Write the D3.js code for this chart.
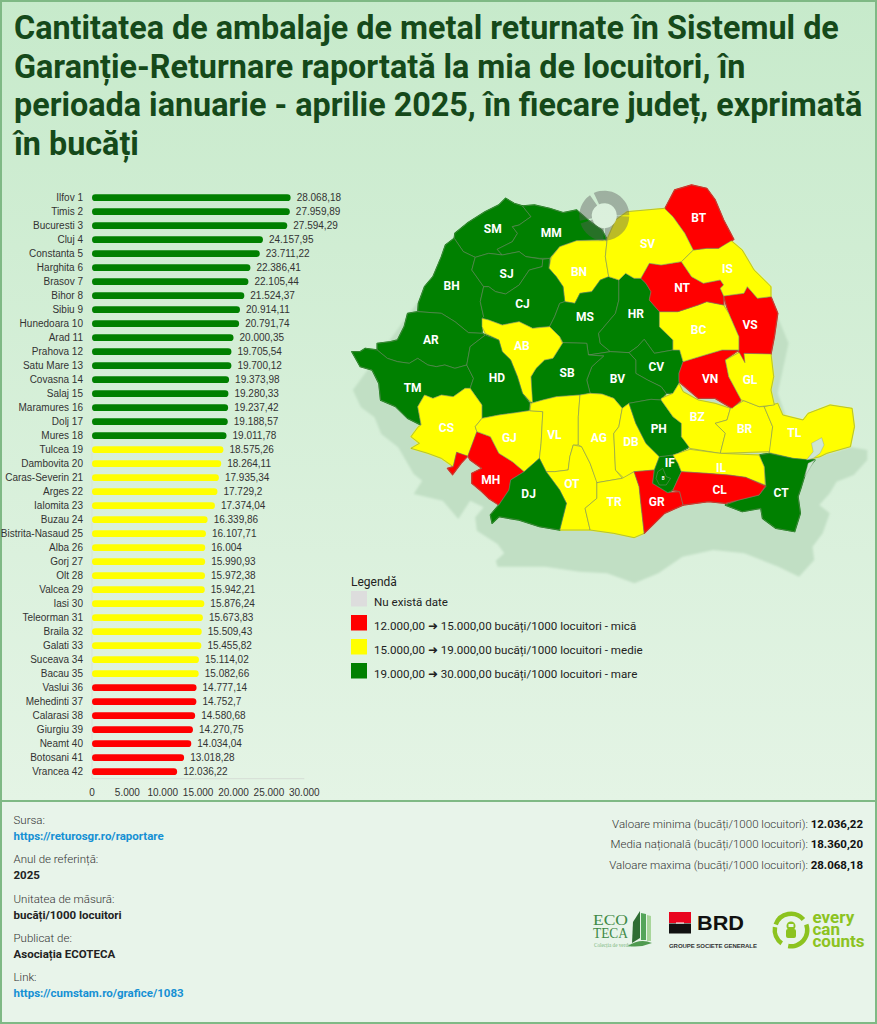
<!DOCTYPE html>
<html><head><meta charset="utf-8">
<script src="https://cdn.jsdelivr.net/npm/d3@7/dist/d3.min.js"></script>
<style>
html,body{margin:0;padding:0;background:#e8f4ea}
svg{display:block}
</style></head><body>
<div id="c"></div>
<script>
const titleLines=["Cantitatea de ambalaje de metal returnate în Sistemul de","Garanție-Returnare raportată la mia de locuitori, în","perioada ianuarie - aprilie 2025, în fiecare județ, exprimată","în bucăți"];
const counties=["Ilfov","Timis","Bucuresti","Cluj","Constanta","Harghita","Brasov","Bihor","Sibiu","Hunedoara","Arad","Prahova","Satu Mare","Covasna","Salaj","Maramures","Dolj","Mures","Tulcea","Dambovita","Caras-Severin","Arges","Ialomita","Buzau","Bistrita-Nasaud","Alba","Gorj","Olt","Valcea","Iasi","Teleorman","Braila","Galati","Suceava","Bacau","Vaslui","Mehedinti","Calarasi","Giurgiu","Neamt","Botosani","Vrancea"];
const values=[28068.18,27959.89,27594.29,24157.95,23711.22,22386.41,22105.44,21524.37,20914.11,20791.74,20000.35,19705.54,19700.12,19373.98,19280.33,19237.42,19188.57,19011.78,18575.26,18264.11,17935.34,17729.2,17374.04,16339.86,16107.71,16004,15990.93,15972.38,15942.21,15876.24,15673.83,15509.43,15455.82,15114.02,15082.66,14777.14,14752.7,14580.68,14270.75,14034.04,13018.28,12036.22];
const codes=["IF","TM","B","CJ","CT","HR","BV","BH","SB","HD","AR","PH","SM","CV","SJ","MM","DJ","MS","TL","DB","CS","AG","IL","BZ","BN","AB","GJ","OT","VL","IS","TR","BR","GL","SV","BC","VS","MH","CL","GR","NT","BT","VN"];
const axisTicks=[0,5000,10000,15000,20000,25000,30000];
const thresholds=[15000,19000];
const bandColors=["#ff0000","#ffff00","#008000"];
const noDataColor="#dddddd";
const legendLabel="Legendă";
const legendItems=["Nu există date","12.000,00 ➜ 15.000,00 bucăți/1000 locuitori - mică","15.000,00 ➜ 19.000,00 bucăți/1000 locuitori - medie","19.000,00 ➜ 30.000,00 bucăți/1000 locuitori - mare"];
const footLeft=[["Sursa:","https://returosgr.ro/raportare",1],["Anul de referință:","2025",0],["Unitatea de măsură:","bucăți/1000 locuitori",0],["Publicat de:","Asociația ECOTECA",0],["Link:","https://cumstam.ro/grafice/1083",1]];
const footRight=[["Valoare minima (bucăți/1000 locuitori): ","12.036,22"],["Media națională (bucăți/1000 locuitori): ","18.360,20"],["Valoare maxima (bucăți/1000 locuitori): ","28.068,18"]];
// traced map geometry, in map units
const shadowOutline="38,660 62,712 102,742 122,792 172,832 218,912 243,932 218,972 304,992 350,1047 385,992 425,1012 400,1042 405,1082 466,1122 486,1150 461,1172 466,1190 608,1190 709,1205 790,1210 871,1240 942,1210 1013,1160 1104,1140 1196,1150 1297,1190 1358,1220 1403,1170 1398,1130 1428,1090 1449,1030 1418,1005 1449,970 1469,935 1520,915 1560,870 1560,840 1509,830 1449,850 1418,840 1340,800 1295,670 1327,520 1307,470 1290,430 1000,300 300,300";
const outlines={
SM:"340,190 380,157 430,125 470,105 490,85 515,100 540,108 565,140 530,165 510,170 525,190 510,215 465,238 480,255 440,250 400,262 365,245 338,205",
BH:"338,205 365,245 400,262 390,300 425,350 415,395 425,440 420,490 380,488 340,455 300,430 230,425 232,400 250,350 275,320 300,260 312,225",
MM:"540,108 575,105 620,115 660,128 700,120 740,155 775,180 790,208 700,212 650,230 620,265 590,265 550,260 530,245 480,255 465,238 510,215 525,190 510,170 530,165 565,140",
SJ:"400,262 440,250 480,255 530,245 550,260 600,268 598,290 560,300 530,345 490,372 460,365 440,350 425,350 390,300",
BN:"650,230 700,212 790,212 785,260 795,320 770,330 745,365 710,370 695,400 665,395 660,350 640,320 618,295 625,262",
CJ:"425,350 440,350 460,365 490,372 530,345 560,300 598,290 600,268 620,265 618,295 640,320 660,350 665,395 650,400 635,440 620,470 590,472 570,475 530,455 480,465 440,450 420,445 425,440 415,395",
MS:"665,395 695,400 710,370 745,365 770,330 795,320 825,330 825,390 815,430 790,460 765,490 770,520 800,545 735,555 730,520 660,518 650,500 620,470 635,440 650,400",
HR:"825,330 845,310 870,325 890,325 905,340 920,365 915,390 945,425 945,470 985,510 985,540 930,550 900,508 880,530 855,548 800,545 770,520 765,490 790,460 815,430 825,390",
CV:"855,548 880,530 900,508 930,550 985,540 1005,540 1015,575 1003,610 1003,640 985,670 965,670 950,650 910,630 875,610 875,570",
BV:"735,555 800,545 855,548 875,570 875,610 910,630 950,650 965,670 950,690 920,688 855,700 835,715 810,685 775,672 740,670 730,630 745,590 780,558",
SB:"660,518 730,520 735,555 780,558 745,590 730,630 740,670 710,675 640,680 600,690 565,700 565,620 580,595 605,570 630,565 658,520",
AB:"420,445 440,450 480,465 530,455 570,475 620,470 650,500 658,520 630,565 605,570 580,595 565,620 570,700 540,670 525,620 505,570 480,545 470,510 430,490 420,470",
AR:"230,425 300,430 340,455 380,488 420,490 430,495 385,530 375,585 340,595 310,585 285,590 260,585 230,565 205,580 170,575 140,565 110,540 110,520 150,515 170,510 190,470 200,430",
TM:"35,545 60,545 75,535 110,540 140,565 170,575 205,580 230,565 260,585 285,590 310,585 340,595 375,585 395,625 385,655 370,655 335,680 300,675 275,685 250,675 230,710 240,765 200,745 165,710 120,690 115,640 95,600 60,590",
HD:"430,495 470,510 480,545 505,570 525,620 540,670 562,700 560,722 520,728 470,735 420,745 420,705 385,655 395,625 375,585 385,530",
CS:"250,675 275,685 300,675 335,680 370,655 385,655 420,705 420,745 400,770 405,785 378,860 345,847 335,890 300,865 260,850 210,835 235,820 210,800 232,770 240,765 230,710",
MH:"405,785 445,800 470,850 510,875 545,905 505,930 500,960 470,1005 440,985 420,965 390,940 390,910 420,895 385,870 378,858 358,880 333,914 318,895 335,890 345,847 378,858",
GJ:"400,770 420,745 470,735 520,728 560,722 600,725 595,820 590,865 545,905 510,875 470,850 445,800 405,785",
VL:"565,700 600,690 640,680 710,675 705,740 705,825 690,825 680,860 675,900 635,905 610,905 590,865 595,820 600,725 562,722",
OT:"610,905 635,905 675,900 680,860 690,825 715,830 740,880 760,935 760,985 725,1015 740,1080 650,1080 670,1000 650,960",
DJ:"590,865 610,905 650,960 670,1000 650,1080 590,1070 530,1050 470,1040 450,1060 445,1035 470,1005 500,960 505,930 545,905",
AG:"710,675 740,670 775,672 810,685 835,715 825,770 810,790 815,900 835,925 760,938 740,880 715,830 705,825 705,740",
DB:"835,715 855,700 875,760 905,820 925,840 945,860 930,900 870,905 840,925 815,900 810,790 825,770",
TR:"760,938 835,925 870,905 885,950 890,1000 900,1090 870,1103 810,1090 740,1080 725,1015 760,985",
GR:"870,905 930,900 925,940 970,968 1005,965 1015,1005 960,1030 900,1090 890,1000 885,950",
IF:"945,860 985,855 1000,880 1010,905 985,960 970,968 925,940 930,900",
PH:"855,700 920,688 950,690 985,740 1010,760 1010,800 1035,830 1000,850 985,855 945,860 925,840 905,820 875,760",
BZ:"985,670 1003,640 1015,665 1060,690 1110,700 1155,715 1145,750 1110,760 1140,790 1125,850 1035,835 1010,800 1010,760 985,740 950,690 950,685",
BR:"1155,715 1195,692 1240,710 1255,710 1280,770 1272,845 1125,850 1140,790 1110,760 1145,750",
TL:"1255,710 1295,700 1310,735 1370,750 1385,730 1450,705 1515,715 1522,770 1510,830 1440,850 1420,860 1380,870 1340,865 1270,848 1280,770",
CT:"1240,855 1270,850 1340,865 1405,870 1380,900 1365,950 1355,980 1362,1030 1345,1085 1290,1075 1250,1045 1245,1015 1190,1025 1140,1005 1180,990 1240,975 1260,950 1255,890",
IL:"985,855 1035,838 1125,850 1240,855 1255,890 1258,945 1200,922 1150,915 1085,910 1010,905 1000,880",
CL:"1010,905 1085,910 1150,915 1200,922 1258,948 1240,975 1180,990 1140,1000 1090,995 1015,1005 1005,965 985,960",
VN:"1003,610 1015,575 1080,555 1130,540 1180,540 1140,570 1150,620 1187,690 1160,715 1110,685 1060,685 1020,650 1003,635",
GL:"1180,548 1195,550 1275,550 1283,620 1275,660 1285,705 1240,710 1195,692 1187,690 1150,620 1140,570",
VS:"1135,378 1195,370 1205,350 1235,385 1275,380 1295,430 1285,500 1275,552 1195,550 1198,578 1180,545 1180,500 1150,430",
BC:"945,425 1000,425 1060,405 1085,395 1135,405 1150,430 1180,500 1180,540 1130,540 1080,555 1015,575 1005,540 985,540 985,510 945,470",
NT:"890,325 915,280 950,285 1010,275 1040,320 1075,340 1125,330 1135,345 1125,355 1135,378 1135,405 1085,395 1060,405 1000,425 945,425 915,390 920,365 905,340",
IS:"1020,265 1045,240 1085,235 1120,235 1155,210 1190,240 1225,300 1275,350 1275,380 1235,385 1205,350 1195,370 1135,378 1125,355 1135,345 1125,330 1075,340 1040,320 1010,275",
BT:"960,118 990,60 1040,45 1085,55 1110,90 1135,150 1165,208 1120,235 1085,235 1045,240 1020,190 985,140",
SV:"790,208 815,150 850,125 960,115 985,140 1020,190 1045,240 1020,265 1010,275 950,285 915,280 890,325 870,325 845,310 825,330 795,320 785,260 790,212",
B:"940,905 955,895 965,920 978,925 965,945 945,945 935,925"
};
const lakeOutlines=["1395,820 1425,803 1432,825 1420,850 1400,865 1380,870 1400,845","1405,870 1385,880 1375,920 1390,895"];
const labelSpots={SM:"452,177",MM:"625,188",BN:"707,304",SV:"910,222",BT:"1061,142",IS:"1146,297",SJ:"493,310",BH:"330,347",CJ:"540,401",NT:"1012,352",MS:"725,440",HR:"875,431",BC:"1061,480",VS:"1213,463",AR:"269,510",AB:"538,528",TM:"215,653",HD:"464,624",SB:"672,607",BV:"821,627",CV:"936,591",VN:"1095,627",GL:"1213,630",CS:"315,773",GJ:"501,803",VL:"634,795",AG:"766,803",DB:"861,816",PH:"943,775",BZ:"1057,739",BR:"1197,775",TL:"1344,788",MH:"446,928",DJ:"558,972",OT:"686,941",TR:"811,996",GR:"937,996",IF:"976,878",IL:"1127,892",CL:"1123,958",CT:"1305,969"};
const ringSegments=[[-25,89],[92,178],[182,252],[258,325]];

const W=877,H=1024;
const svg=d3.select("#c").append("svg").attr("width",W).attr("height",H).attr("font-family","Roboto, sans-serif");
const defs=svg.append("defs");
const g=defs.append("linearGradient").attr("id","bg").attr("x1",0).attr("y1",0).attr("x2",0).attr("y2",1);
g.append("stop").attr("offset",0).attr("stop-color","#c7eacb");
g.append("stop").attr("offset",1).attr("stop-color","#e4f4e5");
defs.append("filter").attr("id","soft").append("feGaussianBlur").attr("stdDeviation",1.2);

svg.append("rect").attr("width",W).attr("height",H).attr("fill","#e8f4ea");
svg.append("rect").attr("width",W).attr("height",801).attr("fill","url(#bg)");
svg.append("rect").attr("x",1).attr("y",1).attr("width",W-2).attr("height",H-2).attr("fill","none").attr("stroke","#7fb985").attr("stroke-width",2);
svg.append("line").attr("x1",0).attr("x2",W).attr("y1",801).attr("y2",801).attr("stroke","#7fb985").attr("stroke-width",2);

const titleBase=[39,78,116,155];
svg.append("g").selectAll("text").data(titleLines).join("text")
 .attr("x",14).attr("y",(d,i)=>titleBase[i]).text(d=>d)
 .attr("font-size",32.35).attr("font-weight",700).attr("fill","#15491a");

const fmt=d3.formatLocale({decimal:",",thousands:".",grouping:[3],currency:["",""]});
const f2=fmt.format(",.2~f"), f0=fmt.format(",.0f");
const x=d3.scaleLinear().domain([0,30000]).range([92,304.3]);
const y=d3.scaleBand().domain(counties).range([190.7,778.7]).paddingInner(.52).paddingOuter(.26);
const color=d3.scaleThreshold().domain(thresholds).range(bandColors);
const bars=svg.append("g").attr("font-family","Liberation Sans, Arial, sans-serif");
bars.append("line").attr("x1",92).attr("x2",92).attr("y1",190).attr("y2",779).attr("stroke","#d9e4d9").attr("stroke-width",1);
bars.append("line").attr("x1",92).attr("x2",304.3).attr("y1",778.7).attr("y2",778.7).attr("stroke","#d5ddd5").attr("stroke-width",1);
bars.selectAll(".b").data(counties).join("rect").attr("class","b")
 .attr("x",x(0)).attr("y",d=>y(d)).attr("height",y.bandwidth())
 .attr("width",(d,i)=>x(values[i])-x(0)).attr("rx",y.bandwidth()/2)
 .attr("fill",(d,i)=>color(values[i]));
bars.selectAll(".n").data(counties).join("text").attr("class","n")
 .attr("x",83).attr("y",d=>y(d)+y.bandwidth()/2+3.5).attr("text-anchor","end")
 .attr("font-size",10).attr("fill","#333").text((d,i)=>d+" "+(i+1));
bars.selectAll(".v").data(counties).join("text").attr("class","v")
 .attr("x",(d,i)=>x(values[i])+6).attr("y",d=>y(d)+y.bandwidth()/2+3.5)
 .attr("font-size",10).attr("fill","#333").text((d,i)=>f2(values[i]));
bars.selectAll(".t").data(axisTicks).join("text").attr("class","t")
 .attr("x",d=>x(d)).attr("y",796).attr("text-anchor","middle")
 .attr("font-size",10).attr("fill","#333").text(d=>f0(d));

const mx=d3.scaleLinear().domain([0,1568]).range([340,870]);
const my=d3.scaleLinear().domain([0,1140]).range([170,550]);
const parse=s=>s.split(" ").map(p=>p.split(",").map(Number));
const line=d3.line().x(d=>mx(d[0])).y(d=>my(d[1])).curve(d3.curveLinearClosed);
const map=svg.append("g");
map.append("path").attr("d",line(parse(shadowOutline))).attr("fill","#c1dfc4").attr("filter","url(#soft)");
const drawOrder=Object.keys(outlines);
const fillOf=k=>color(values[codes.indexOf(k)]);
map.selectAll(".u").data(drawOrder).join("path").attr("class","u")
 .attr("d",k=>line(parse(outlines[k]))).attr("fill",fillOf).attr("stroke",fillOf).attr("stroke-width",1.4).attr("stroke-linejoin","round");
map.selectAll(".c").data(drawOrder).join("path").attr("class","c")
 .attr("d",k=>line(parse(outlines[k]))).attr("fill",fillOf)
 .attr("stroke","#748a6c").attr("stroke-width",.55).attr("stroke-linejoin","round");
map.selectAll(".l").data(lakeOutlines).join("path").attr("class","l")
 .attr("d",s=>line(parse(s))).attr("fill","#cfe6d2").attr("stroke","#8aa08a").attr("stroke-width",.4);
const ringAt=[mx(782),my(137)];
const arc=d3.arc().innerRadius(12.5).outerRadius(25);
const ring=map.append("g").attr("transform",`translate(${ringAt})`);
ring.append("circle").attr("r",12.5).attr("fill","#dcefdd").attr("opacity",.9);
ring.selectAll("path").data(ringSegments).join("path")
 .attr("d",d=>arc({startAngle:d[0]*Math.PI/180,endAngle:d[1]*Math.PI/180}))
 .attr("fill","#5c5c5c").attr("opacity",.42);
map.selectAll(".m").data(Object.keys(labelSpots)).join("text").attr("class","m")
 .attr("x",k=>mx(+labelSpots[k].split(",")[0])).attr("y",k=>my(+labelSpots[k].split(",")[1])+4.2)
 .attr("text-anchor","middle").attr("font-size",12).attr("font-weight",700).attr("fill","#fff").text(k=>k);
map.append("text").attr("x",mx(956)).attr("y",my(925)+1.5).attr("text-anchor","middle").attr("font-size",4.5).attr("font-weight",700).attr("fill","#fff").text("B");

const leg=svg.append("g");
leg.append("text").attr("x",351).attr("y",585.5).attr("font-size",12).attr("fill","#222").text(legendLabel);
const swY=[591,615,639,663];
const swC=[noDataColor,...bandColors];
leg.selectAll("rect").data(legendItems).join("rect").attr("x",351).attr("y",(d,i)=>swY[i]).attr("width",16).attr("height",15.5).attr("fill",(d,i)=>swC[i]);
leg.selectAll(".lt").data(legendItems).join("text").attr("class","lt").attr("x",374).attr("y",(d,i)=>swY[i]+14.5).attr("font-size",11.6).attr("fill","#222").text(d=>d);

const ft=svg.append("g");
const topY=[824,863,903,942,981];
footLeft.forEach((r,i)=>{
 ft.append("text").attr("x",13.5).attr("y",topY[i]).attr("font-size",11.5).attr("font-weight",300).attr("fill","#333").text(r[0]);
 ft.append("text").attr("x",13.5).attr("y",topY[i]+16).attr("font-size",11.5).attr("font-weight",700).attr("fill",r[2]?"#1590d4":"#222").text(r[1]);
});
const rightY=[828,848,869];
footRight.forEach((r,i)=>{
 const t=ft.append("text").attr("x",863).attr("y",rightY[i]).attr("text-anchor","end").attr("font-size",11.5).attr("fill","#333");
 t.append("tspan").attr("font-weight",300).text(r[0]);
 t.append("tspan").attr("font-weight",700).attr("fill","#111").text(r[1]);
});

const lg=svg.append("g");
lg.append("text").attr("x",593).attr("y",925).attr("font-family","Liberation Serif").attr("font-size",15).attr("fill","#3f8a45").attr("textLength",35).attr("lengthAdjust","spacingAndGlyphs").text("ECO");
lg.append("text").attr("x",593).attr("y",938).attr("font-family","Liberation Serif").attr("font-size",15).attr("fill","#3f8a45").attr("textLength",35).attr("lengthAdjust","spacingAndGlyphs").text("TECA");
lg.append("text").attr("x",594).attr("y",947).attr("font-family","Liberation Serif").attr("font-size",5.2).attr("fill","#7ab57c").text("Colecția de verde");
lg.append("path").attr("d","M633,922 L640,911 L640,938 L632,943Z").attr("fill","#2f6d33");
lg.append("path").attr("d","M641,913 L646,914 L646,940 L641,940Z").attr("fill","#55a55a");
lg.append("path").attr("d","M647,915 L651,916 L651,941 L647,941Z").attr("fill","#a8d69a");
lg.append("path").attr("d","M628,946 Q640,938 652,943 Q640,948 628,946Z").attr("fill","#4f9a4f");
lg.append("rect").attr("x",669).attr("y",912).attr("width",22).attr("height",11).attr("fill","#e9041e");
lg.append("rect").attr("x",669).attr("y",923.5).attr("width",22).attr("height",10).attr("fill","#111");
lg.append("rect").attr("x",676).attr("y",922.5).attr("width",8).attr("height",1).attr("fill","#fff");
lg.append("text").attr("x",697).attr("y",930).attr("font-family","Liberation Sans").attr("font-size",21).attr("font-weight",700).attr("fill","#111").attr("textLength",47).attr("lengthAdjust","spacingAndGlyphs").text("BRD");
lg.append("text").attr("x",669).attr("y",948).attr("font-family","Liberation Sans").attr("font-size",6).attr("font-weight",700).attr("fill","#333").attr("textLength",88).text("GROUPE SOCIETE GENERALE");
const ec=lg.append("g").attr("transform","translate(791,930)").attr("fill","#8cc31f");
const ecArc=d3.arc().innerRadius(14).outerRadius(18.5);
[[-70,50],[70,190],[215,280]].forEach(a=>ec.append("path").attr("d",ecArc({startAngle:a[0]*Math.PI/180,endAngle:a[1]*Math.PI/180})));
ec.append("circle").attr("cy",-4).attr("r",4.5);
ec.append("rect").attr("x",-5).attr("y",-1).attr("width",10).attr("height",9).attr("rx",2);
ec.append("rect").attr("x",-2.5).attr("y",-6).attr("width",5).attr("height",3).attr("fill","#e8f4ea");
[["every",923],["can",934.5],["counts",947]].forEach(r=>lg.append("text").attr("x",812.5).attr("y",r[1]).attr("font-size",17).attr("font-weight",700).attr("fill","#8cc31f").text(r[0]));
</script></body></html>
